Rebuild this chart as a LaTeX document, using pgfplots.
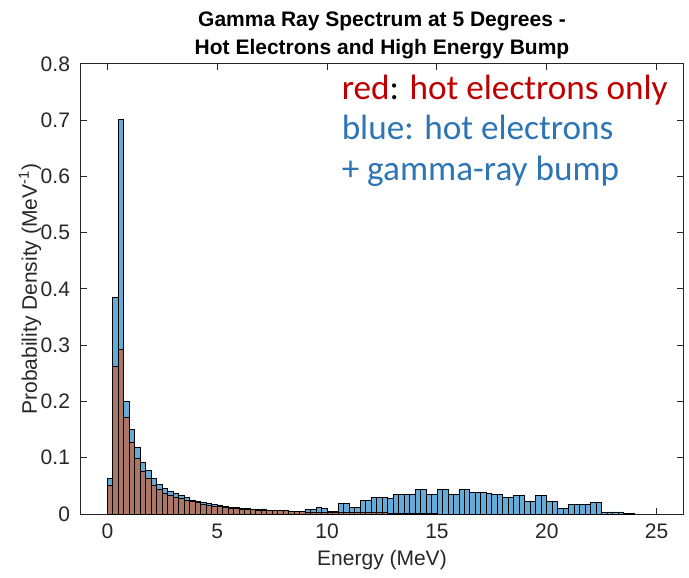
\documentclass[border=0pt]{standalone}
\usepackage{pgfplots}
\usepackage{pgfplotstable}
\pgfplotsset{compat=1.18}
\usepackage{fontspec}
\setmainfont{Liberation Sans}
\newfontfamily\carlito{Carlito}

\definecolor{axisgray}{RGB}{38,38,38}
\definecolor{barblue}{RGB}{102,170,215}
\definecolor{barred}{RGB}{171,118,101}
\definecolor{textred}{RGB}{192,0,0}
\definecolor{textblue}{RGB}{46,117,182}

% Histogram of hot electrons plus the high-energy bump (0.25 MeV bins, left edges)
\pgfplotstableread{
E      p
0.00   0.063
0.25   0.385
0.50   0.701
0.75   0.201
1.00   0.151
1.25   0.118
1.50   0.092
1.75   0.077
2.00   0.063
2.25   0.053
2.50   0.046
2.75   0.040
3.00   0.036
3.25   0.033
3.50   0.029
3.75   0.025
4.00   0.023
4.25   0.021
4.50   0.019
4.75   0.0166
5.00   0.0148
5.25   0.0136
5.50   0.0124
5.75   0.0118
6.00   0.0106
6.25   0.0100
6.50   0.0089
6.75   0.0089
7.00   0.0089
7.25   0.0071
7.50   0.0071
7.75   0.0071
8.00   0.0071
8.25   0.0047
8.50   0.0047
8.75   0.0047
9.00   0.0083
9.25   0.0083
9.50   0.0124
9.75   0.0106
10.00  0.0047
10.25  0.0047
10.50  0.019
10.75  0.019
11.00  0.0124
11.25  0.0124
11.50  0.0243
11.75  0.0243
12.00  0.0296
12.25  0.0296
12.50  0.0296
12.75  0.0278
13.00  0.0355
13.25  0.0355
13.50  0.034
13.75  0.034
14.00  0.043
14.25  0.043
14.50  0.0355
14.75  0.034
15.00  0.043
15.25  0.043
15.50  0.0355
15.75  0.0355
16.00  0.043
16.25  0.043
16.50  0.039
16.75  0.039
17.00  0.038
17.25  0.037
17.50  0.034
17.75  0.034
18.00  0.030
18.25  0.030
18.50  0.0325
18.75  0.0325
19.00  0.022
19.25  0.022
19.50  0.0325
19.75  0.0325
20.00  0.022
20.25  0.022
20.50  0.010
20.75  0.010
21.00  0.017
21.25  0.017
21.50  0.017
21.75  0.017
22.00  0.0207
22.25  0.0207
22.50  0.0036
22.75  0.0036
23.00  0.0036
23.25  0.0036
23.50  0.0012
23.75  0.0012
24.00  0
}\bumpdata

% Histogram of hot electrons only
\pgfplotstableread{
E      p
0.00   0.051
0.25   0.263
0.50   0.293
0.75   0.172
1.00   0.127
1.25   0.098
1.50   0.076
1.75   0.063
2.00   0.051
2.25   0.044
2.50   0.037
2.75   0.033
3.00   0.030
3.25   0.028
3.50   0.024
3.75   0.022
4.00   0.020
4.25   0.017
4.50   0.015
4.75   0.0136
5.00   0.0130
5.25   0.0118
5.50   0.0106
5.75   0.0095
6.00   0.0089
6.25   0.0077
6.50   0.0075
6.75   0.0072
7.00   0.0070
7.25   0.0060
7.50   0.0060
7.75   0.0060
8.00   0.0060
8.25   0.0040
8.50   0.0040
8.75   0.0040
9.00   0.0036
9.25   0.0036
9.50   0.0030
9.75   0.0030
10.00  0.0030
10.25  0.0030
10.50  0.0020
10.75  0.0020
11.00  0.0020
11.25  0.0020
11.50  0.0020
11.75  0.0020
12.00  0.0020
12.25  0.0020
12.50  0.0020
12.75  0.0015
13.00  0.0015
13.25  0.0015
13.50  0.0015
13.75  0.0015
14.00  0.0015
14.25  0.0015
14.50  0.0015
14.75  0.0015
15.00  0
}\hotdata

\begin{document}
\begin{tikzpicture}
\useasboundingbox (-40.5pt,-31.5pt) rectangle (304pt,257pt);
\begin{axis}[
  scale only axis,
  width=301pt, height=225pt,
  xmin=-1.2, xmax=26.2,
  ymin=0, ymax=0.8,
  xtick={0,5,10,15,20,25},
  xticklabels={0,5,10,15,20,25},
  ytick={0,0.1,0.2,0.3,0.4,0.5,0.6,0.7,0.8},
  yticklabels={0,0.1,0.2,0.3,0.4,0.5,0.6,0.7,0.8},
  tick align=inside,
  major tick length=3pt,
  axis line style={draw=axisgray, line width=0.5pt},
  tick style={draw=axisgray, line width=0.5pt},
  tick label style={font=\fontsize{10.5}{12}\selectfont, text=axisgray},
  x tick label style={yshift=-1.5pt},
  y tick label style={xshift=-2pt},
  label style={font=\fontsize{10.5}{12}\selectfont, text=axisgray},
  xlabel={Energy (MeV)},
  ylabel={Probability Density (MeV\textsuperscript{-1})},
  xlabel style={at={(axis description cs:0.5,-0.102)}, anchor=center},
  ylabel style={at={(axis description cs:-0.0847,0.5)}, anchor=center},
  title={Gamma Ray Spectrum at 5 Degrees -\\Hot Electrons and High Energy Bump},
  title style={font=\bfseries\fontsize{10.5}{14}\selectfont, align=center,
    at={(axis description cs:0.5,1)}, anchor=south, inner sep=0pt, yshift=-3.5pt},
]
\addplot[ybar interval, fill=barblue, draw=black, line width=0.4pt] table[x=E, y=p] {\bumpdata};
\addplot[ybar interval, fill=barred, draw=black, line width=0.4pt] table[x=E, y=p] {\hotdata};

\node[anchor=base west, font=\carlito\fontsize{17.6}{21}\selectfont, text=textred]
  at (rel axis cs:0.4214,0.9216) {red\textcolor{black}{:} hot electrons only};
\node[anchor=base west, font=\carlito\fontsize{17.6}{21}\selectfont, text=textblue]
  at (rel axis cs:0.4214,0.8314) {blue: hot electrons};
\node[anchor=base west, font=\carlito\fontsize{17.6}{21}\selectfont, text=textblue]
  at (rel axis cs:0.4214,0.7408) {+ gamma-ray bump};
\end{axis}
\end{tikzpicture}
\end{document}
